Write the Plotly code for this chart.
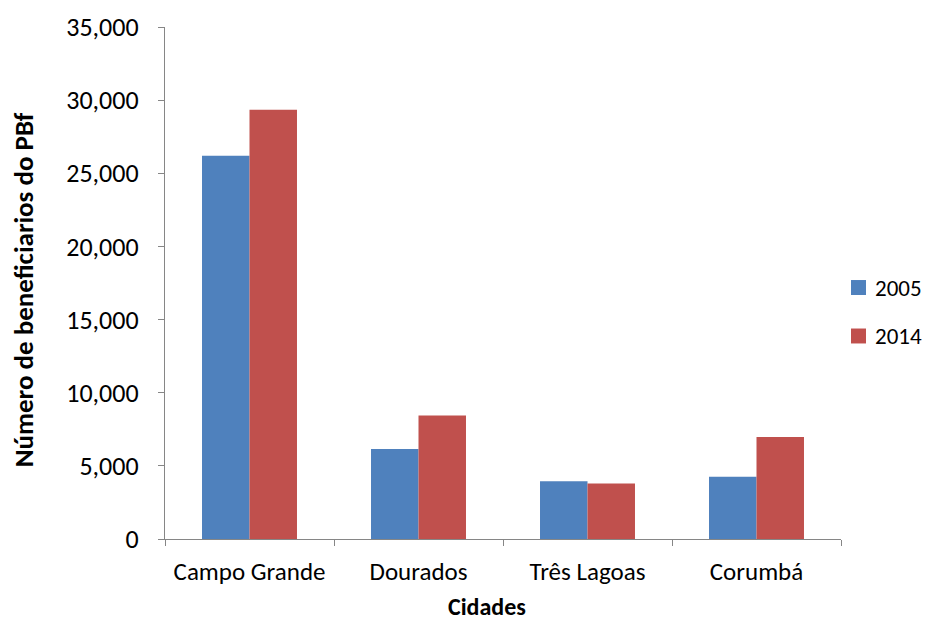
import plotly.graph_objects as go

cidades = ["Campo Grande", "Dourados", "Três Lagoas", "Corumbá"]
v2005 = [26200, 6150, 3950, 4250]
v2014 = [29350, 8450, 3800, 6970]
y_ticks = [0, 5000, 10000, 15000, 20000, 25000, 30000, 35000]
series_names = ["2005", "2014"]
series_colors = ["#4F81BD", "#C0504D"]

FONT = "Carlito, Calibri, Lato, sans-serif"
AXIS = "#868686"

# plot area in pixels: x 165..841, y 27..539
fig = go.Figure()
for name, vals, col in zip(series_names, [v2005, v2014], series_colors):
    fig.add_trace(go.Bar(x=cidades, y=vals, name=name,
                         marker=dict(color=col, line=dict(width=0)),
                         showlegend=False))

# manual legend (to the right of the plot area, paper coordinates)
legend_y = [0.4912, 0.3965]
shapes = []
annotations = []
for name, col, yc in zip(series_names, series_colors, legend_y):
    shapes.append(dict(type="rect", xref="paper", yref="paper",
                       x0=1.0148, x1=1.0370, y0=yc - 0.0146, y1=yc + 0.0146,
                       fillcolor=col, line=dict(width=0)))
    annotations.append(dict(text=name, xref="paper", yref="paper", x=1.0473, y=yc,
                            xanchor="left", yanchor="middle", showarrow=False,
                            font=dict(size=23, family=FONT, color="black")))

annotations.append(dict(text="<b>Número de beneficiarios do PBf</b>", xref="paper", yref="paper",
                        x=-0.210, y=0.486, textangle=-90, xanchor="center", yanchor="middle",
                        showarrow=False, font=dict(size=27, family=FONT, color="black")))
annotations.append(dict(text="<b>Cidades</b>", xref="paper", yref="paper",
                        x=0.4756, y=-0.131, xanchor="center", yanchor="middle",
                        showarrow=False, font=dict(size=24, family=FONT, color="black")))

fig.update_layout(
    width=927, height=621,
    margin=dict(l=165, r=86, t=27, b=82),
    paper_bgcolor="white", plot_bgcolor="white",
    barmode="group", bargap=0.438, bargroupgap=0,
    font=dict(family=FONT, size=26, color="black"),
    showlegend=False,
    shapes=shapes,
    annotations=annotations,
    xaxis=dict(showline=True, linecolor=AXIS, linewidth=1.3,
               ticks="outside", tickson="boundaries", ticklen=6, tickcolor=AXIS,
               tickfont=dict(size=25), tickangle=0, ticklabelstandoff=10,
               showgrid=False, automargin=False),
    yaxis=dict(range=[0, 35000], tickvals=y_ticks, tickformat=",",
               showline=True, linecolor=AXIS, linewidth=1.3,
               ticks="outside", ticklen=6, tickcolor=AXIS,
               tickfont=dict(size=26), ticklabelstandoff=14,
               showgrid=False, zeroline=False, automargin=False),
)

fig.write_html("out.html", config={"displayModeBar": False},
               post_script="document.body.style.margin='0';document.body.style.overflow='hidden';")
